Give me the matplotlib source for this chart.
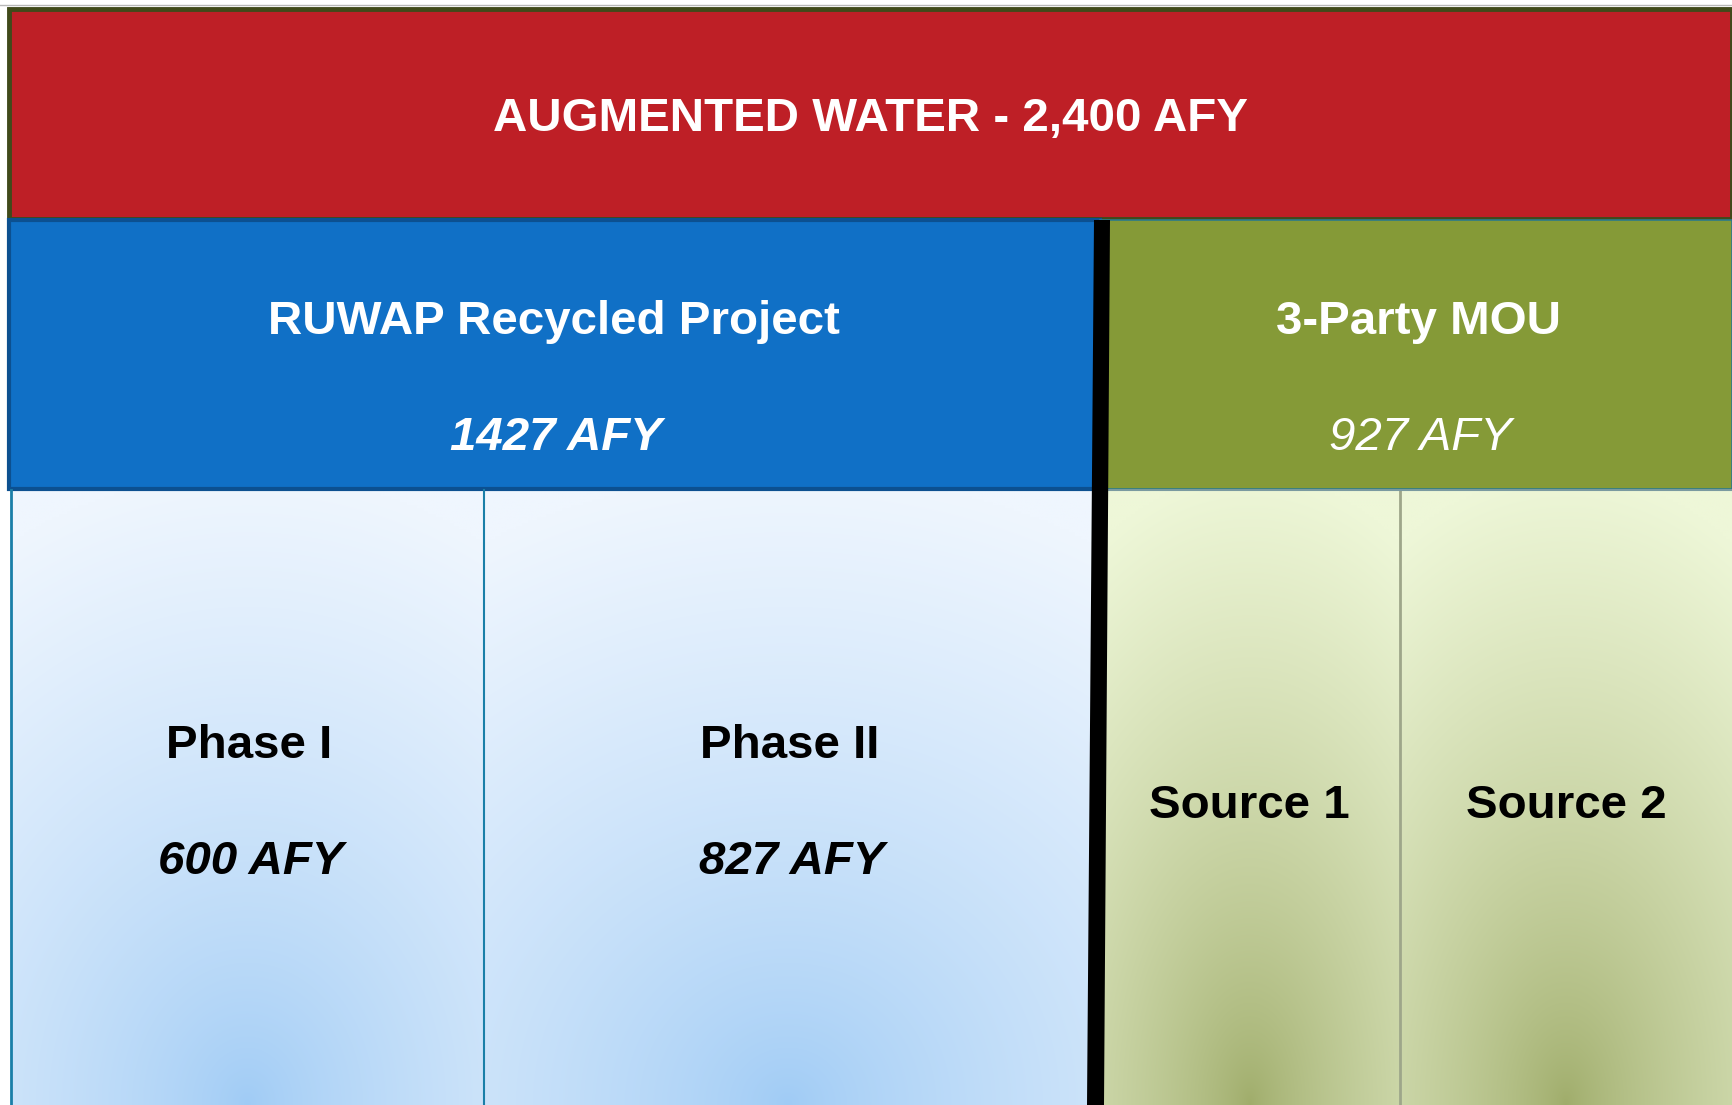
import numpy as np
import matplotlib
matplotlib.use("Agg")
import matplotlib.pyplot as plt
from matplotlib.patches import Rectangle, Polygon
from matplotlib.colors import to_rgb

# ---- data ----
top_label = "AUGMENTED WATER"
top_value = 2400
group_labels = ["RUWAP Recycled Project", "3-Party MOU"]
group_values = [1427, 927]
sub_labels = ["Phase I", "Phase II", "Source 1", "Source 2"]
sub_values = [600, 827, None, None]
sub_group = [0, 0, 1, 1]

# ---- layout (pixel coordinates) ----
W, H = 1732, 1105
FS = 34.2
FONT = "Liberation Sans"
DY = 4.5  # vertical text offset

fig = plt.figure(figsize=(W / 100, H / 100), dpi=100)
ax = fig.add_axes([0, 0, 1, 1])
ax.set_xlim(0, W)
ax.set_ylim(H, 0)
ax.axis("off")

# top thin grey line
ax.plot([0, W], [5, 5], color="#b8b8b8", lw=1)

# red top bar
ax.add_patch(Rectangle((8.5, 8.5), W - 8.5, 210, facecolor="#be1f26",
                       edgecolor="#404a1a", lw=3.5, zorder=2))
ax.text((8.5 + W) / 2, 115 + DY, f"{top_label} - {top_value:,} AFY", ha="center",
        va="center", color="white", fontsize=FS, fontweight="bold", family=FONT, zorder=5)

# group boxes
x_split = 1100
groups_x = [(8.5, x_split), (x_split, W)]
group_fc = ["#1070c6", "#859a37"]
group_ec = ["#0c5090", "#2b7a8a"]
group_lw = [3.0, 1.2]
group_cx = [554, 1418]
group_weight_val = ["bold", "normal"]
for i, ((x0, x1), lab, val) in enumerate(zip(groups_x, group_labels, group_values)):
    ax.add_patch(Rectangle((x0, 220), x1 - x0, 269, facecolor=group_fc[i],
                           edgecolor=group_ec[i], lw=group_lw[i], zorder=2))
    cx = group_cx[i]
    ax.text(cx, 318 + DY, lab, ha="center", va="center", color="white", fontsize=FS,
            fontweight="bold", family=FONT, zorder=5)
    ax.text(cx + 2, 433 + DY, f"{val} AFY", ha="center", va="center", color="white",
            fontsize=FS, fontweight=group_weight_val[i], style="italic",
            family=FONT, zorder=5)

# sub panels with radial gradients
sub_x = [(11, 484), (484, 1092), (1100, 1400), (1400, W)]
sub_cx = [249, 790, 1249, 1566]
light = [to_rgb("#eff6fe"), to_rgb("#eef7d8")]
dark = [to_rgb("#9fcbf5"), to_rgb("#9fac6a")]
y0, y1 = 491, H
for k, (x0, x1) in enumerate(sub_x):
    g = sub_group[k]
    nx, ny = 200, 200
    xs = np.linspace(0, 1, nx)
    ys = np.linspace(0, 1, ny)
    X, Y = np.meshgrid(xs, ys)
    dx = (X - 0.5) * 2
    dy = 1 - Y
    d = np.sqrt(0.22 * dx ** 2 + dy ** 2) / 1.03
    d = np.clip(d, 0, 1) ** 0.75
    img = np.zeros((ny, nx, 3))
    for c in range(3):
        img[..., c] = dark[g][c] + (light[g][c] - dark[g][c]) * d
    ax.imshow(img, extent=(x0, x1, y1, y0), aspect="auto", zorder=1,
              interpolation="bilinear")
    lab = sub_labels[k]
    val = sub_values[k]
    if val is not None:
        ax.text(sub_cx[k], 742 + DY, lab, ha="center", va="center", color="black",
                fontsize=FS, fontweight="bold", family=FONT, zorder=5)
        ax.text(sub_cx[k] + 2, 857 + DY, f"{val} AFY", ha="center", va="center",
                color="black", fontsize=FS, fontweight="bold", style="italic",
                family=FONT, zorder=5)
    else:
        ax.text(sub_cx[k], 801 + DY, lab, ha="center", va="center", color="black",
                fontsize=FS, fontweight="bold", family=FONT, zorder=5)

# panel divider lines
ax.plot([11, 11], [490, H], color="#1a7fa8", lw=2, zorder=3)
ax.plot([484, 484], [490, H], color="#1a7fa8", lw=1.5, zorder=3)
ax.plot([1400, 1400], [490, H], color="#9ea68a", lw=2, zorder=3)
ax.plot([1100, W], [490, 490], color="#7a9aa0", lw=1.5, zorder=3)

# black slanted divider
ax.add_patch(Polygon([(1094, 220), (1110, 220), (1104, H), (1087, H)],
                     closed=True, facecolor="black", edgecolor="none", zorder=4))

fig.savefig("out.png", dpi=100)
